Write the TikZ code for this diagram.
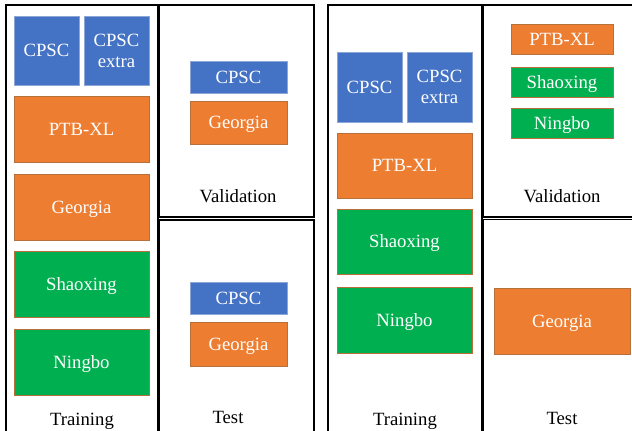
\documentclass[tikz,border=0pt]{standalone}
\usepackage{fontspec}
\setmainfont{Liberation Serif}
\definecolor{oblue}{HTML}{4472C4}
\definecolor{oorange}{HTML}{ED7D31}
\definecolor{ogreen}{HTML}{00B050}
\definecolor{oedge}{HTML}{B8703A}
\definecolor{bedge}{HTML}{8EA6D6}
\tikzset{
  frame/.style={draw=black,line width=1.5pt},
  dbox/.style={text=white,font=\fontsize{18.7}{21}\selectfont,inner sep=0pt,line width=0.6pt,
    text height=12.4pt,text depth=0pt,align=center},
  dbox2/.style={text=white,font=\fontsize{18.7}{21}\selectfont,inner sep=0pt,line width=0.6pt,align=center},
  bluebox/.style={fill=oblue,draw=bedge},
  orangebox/.style={fill=oorange,draw=oedge},
  greenbox/.style={fill=ogreen,draw=oedge},
  lab/.style={font=\fontsize{18.7}{21}\selectfont,anchor=base,inner sep=0pt}
}
\begin{document}
\begin{tikzpicture}[x=1pt,y=-1pt]
\useasboundingbox (0,0) rectangle (632,431);
% frames left
\draw[frame] (6,445) -- (6,5) -- (158,5) -- (158,445);
\draw[frame] (159.5,5) rectangle (314,217);
\draw[frame] (159.5,445) -- (159.5,220) -- (314,220) -- (314,445);
% frames right
\draw[frame] (328,445) -- (328,5) -- (482,5) -- (482,445);
\draw[frame] (640,5) -- (483.5,5) -- (483.5,217) -- (640,217);
\draw[frame] (640,219.5) -- (483.5,219.5) -- (483.5,445);
% left training
\node[dbox,bluebox,minimum width=65pt,minimum height=69pt] (cpscA) at (46.5,50.5) {CPSC};
\node[dbox2,bluebox,minimum width=65pt,minimum height=69pt] (cpscxA) at (116.5,50.5) {CPSC\\extra};
\node[dbox,orangebox,minimum width=135pt,minimum height=66pt] (ptbA) at (81.5,129) {PTB-XL};
\node[dbox,orangebox,minimum width=135pt,minimum height=66pt] (geoA) at (81.5,207) {Georgia};
\node[dbox,greenbox,minimum width=135pt,minimum height=66pt] (shaA) at (81.5,284) {Shaoxing};
\node[dbox,greenbox,minimum width=135pt,minimum height=66pt] (ninA) at (81.5,362) {Ningbo};
\node[lab] (trainA) at (82,425) {Training};
% left validation
\node[dbox,bluebox,minimum width=97pt,minimum height=32pt] (vcpscA) at (238.5,77) {CPSC};
\node[dbox,orangebox,minimum width=97pt,minimum height=43pt] (vgeoA) at (238.5,122.5) {Georgia};
\node[lab] (valA) at (238,202.5) {Validation};
% left test
\node[dbox,bluebox,minimum width=97pt,minimum height=32pt] (tcpscA) at (238.5,298) {CPSC};
\node[dbox,orangebox,minimum width=97pt,minimum height=44pt] (tgeoA) at (238.5,344) {Georgia};
\node[lab] (testA) at (228,423) {Test};
% right training
\node[dbox,bluebox,minimum width=65pt,minimum height=70pt] (cpscB) at (369.5,87) {CPSC};
\node[dbox2,bluebox,minimum width=65pt,minimum height=70pt] (cpscxB) at (439.5,87) {CPSC\\extra};
\node[dbox,orangebox,minimum width=135pt,minimum height=65pt] (ptbB) at (404.5,165.5) {PTB-XL};
\node[dbox,greenbox,minimum width=135pt,minimum height=65pt] (shaB) at (404.5,241.5) {Shaoxing};
\node[dbox,greenbox,minimum width=135pt,minimum height=66pt] (ninB) at (404.5,320) {Ningbo};
\node[lab] (trainB) at (405,425) {Training};
% right validation
\node[dbox,orangebox,minimum width=102pt,minimum height=30pt] (vptbB) at (562,39) {PTB-XL};
\node[dbox,greenbox,minimum width=102pt,minimum height=30pt] (vshaB) at (562,82) {Shaoxing};
\node[dbox,greenbox,minimum width=102pt,minimum height=30pt] (vninB) at (562,123) {Ningbo};
\node[lab] (valB) at (562,202) {Validation};
% right test
\node[dbox,orangebox,minimum width=136pt,minimum height=66pt] (tgeoB) at (562,321) {Georgia};
\node[lab] (testB) at (562,424) {Test};
\end{tikzpicture}
\end{document}
